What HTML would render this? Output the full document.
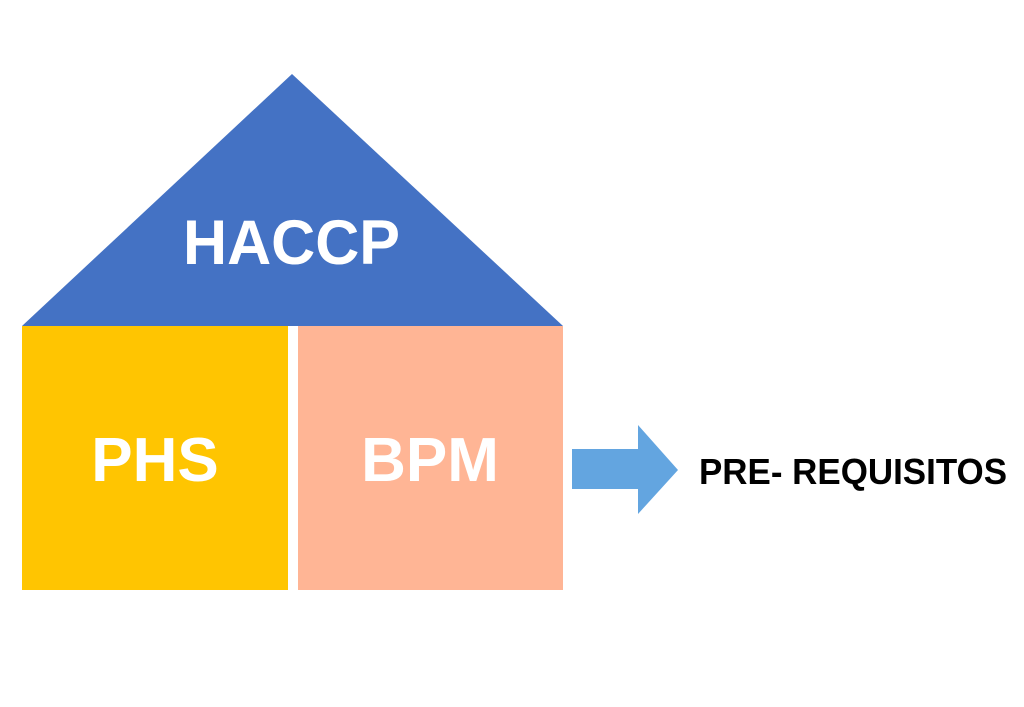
<!DOCTYPE html>
<html><head><style>
html,body{margin:0;padding:0;background:#fff;width:1024px;height:707px;overflow:hidden}
</style></head><body>
<svg width="1024" height="707" xmlns="http://www.w3.org/2000/svg" style="display:block">
<polygon points="292,74 563,326 22,326" fill="#4472C4"/>
<rect x="22" y="326" width="266" height="264" fill="#FFC501"/>
<rect x="298" y="326" width="265" height="264" fill="#FFB595"/>
<polygon points="572,449 638,449 638,425 678,470 638,514 638,489 572,489" fill="#63A5E0"/>
<g font-family="Liberation Sans, sans-serif" font-weight="bold" fill="#fff">
<text x="183" y="264" font-size="63" textLength="217" lengthAdjust="spacingAndGlyphs">HACCP</text>
<text x="155" y="481" font-size="62" text-anchor="middle">PHS</text>
<text x="430" y="481" font-size="62" text-anchor="middle">BPM</text>
</g>
<text x="699" y="484" font-family="Liberation Sans, sans-serif" font-weight="bold" font-size="36" textLength="308" lengthAdjust="spacingAndGlyphs" fill="#000">PRE- REQUISITOS</text>
</svg>
</body></html>
